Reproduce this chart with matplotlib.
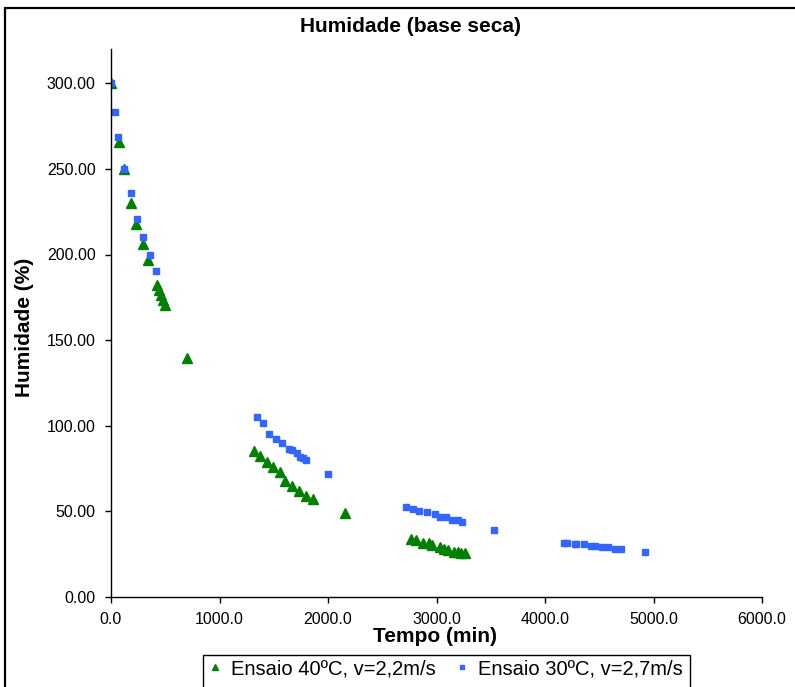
import matplotlib.pyplot as plt
from matplotlib.patches import Rectangle

# Ensaio 40ºC, v=2,2m/s
t_40 = [0, 74, 120, 184, 230, 295, 341, 424, 442, 461, 479, 498, 703,
        1318, 1376, 1438, 1496, 1555, 1601, 1671, 1733, 1794, 1865, 2157,
        2765, 2811, 2876, 2934, 2961, 3035, 3072, 3106, 3164, 3195, 3226, 3260]
h_40 = [300.0, 265.5, 250.0, 230.0, 218.0, 206.0, 196.5, 182.0, 179.5, 176.6, 173.7, 170.8, 139.4,
        85.4, 82.5, 78.8, 75.8, 73.1, 67.7, 64.7, 62.0, 59.0, 57.1, 48.9,
        33.7, 33.0, 31.4, 31.4, 30.4, 29.0, 28.3, 27.5, 26.5, 26.5, 25.7, 25.7]

# Ensaio 30ºC, v=2,7m/s
t_30 = [0, 37, 67, 120, 181, 243, 298, 359, 418,
        1343, 1401, 1459, 1518, 1576, 1638, 1671, 1711, 1742, 1770, 1800, 2003,
        2719, 2780, 2839, 2912, 2986, 3032, 3088, 3143, 3201, 3235, 3530,
        4175, 4206, 4273, 4286, 4360, 4421, 4461, 4522, 4584, 4645, 4700, 4922]
h_30 = [300.0, 283.0, 268.6, 250.0, 236.0, 221.0, 210.0, 199.6, 190.5,
        104.9, 101.8, 95.3, 92.4, 89.7, 86.5, 85.6, 84.0, 82.0, 81.3, 80.1, 71.9,
        52.4, 51.5, 50.5, 49.5, 48.5, 47.0, 47.0, 44.8, 44.8, 43.9, 39.4,
        31.8, 31.8, 30.8, 30.8, 30.8, 29.8, 29.8, 29.0, 29.0, 28.0, 28.0, 26.1]

x_ticks = [0, 1000, 2000, 3000, 4000, 5000, 6000]
y_ticks = [0, 50, 100, 150, 200, 250, 300]

plt.rcParams['font.family'] = ['Liberation Sans', 'DejaVu Sans']

fig = plt.figure(figsize=(7.95, 6.87), dpi=100)
ax = fig.add_axes([111 / 795, 1 - 597 / 687, 651 / 795, 548 / 687])

ax.plot(t_40, h_40, linestyle='none', marker='^', markersize=6.5,
        color='#008000', label='Ensaio 40ºC, v=2,2m/s')
ax.plot(t_30, h_30, linestyle='none', marker='s', markersize=5,
        color='#3366FF', label='Ensaio 30ºC, v=2,7m/s')

ax.set_xlim(0, 6000)
ax.set_ylim(0, 320)
ax.set_xticks(x_ticks)
ax.set_yticks(y_ticks)
ax.set_xticklabels([f'{v:.1f}' for v in x_ticks])
ax.set_yticklabels([f'{v:.2f}' for v in y_ticks])
ax.tick_params(direction='out', length=4, width=1, labelsize=11.5, pad=7)
for s in ['top', 'right']:
    ax.spines[s].set_visible(False)
for s in ['left', 'bottom']:
    ax.spines[s].set_linewidth(1)

fig.text(411 / 795, 1 - 26 / 687, 'Humidade (base seca)', ha='center', va='center',
         fontsize=15, fontweight='bold')
fig.text(25 / 795, 1 - 327 / 687, 'Humidade (%)', ha='center', va='center',
         rotation=90, fontsize=15, fontweight='bold')
fig.text(435 / 795, 1 - 636 / 687, 'Tempo (min)', ha='center', va='center',
         fontsize=15, fontweight='bold')

leg = fig.legend(loc='upper center', bbox_to_anchor=(446 / 795, 1 - 655 / 687), ncol=2,
                 fontsize=14.5, frameon=False, handlelength=0.6,
                 handletextpad=0.5, columnspacing=1.0, borderpad=0.2, borderaxespad=0,
                 markerscale=0.7)

# legend box, runs past the bottom edge as in the original
fig.patches.append(Rectangle((203 / 795, -0.05), 487 / 795, 0.05 + 1 - 655 / 687,
                             transform=fig.transFigure, fill=False,
                             edgecolor='black', linewidth=1))

# outer chart frame
fig.patches.append(Rectangle((5 / 795, -0.2), 1.5, 1.2 - 8 / 687, transform=fig.transFigure,
                             fill=False, edgecolor='black', linewidth=1.6))

fig.savefig('out.png', dpi=100)
